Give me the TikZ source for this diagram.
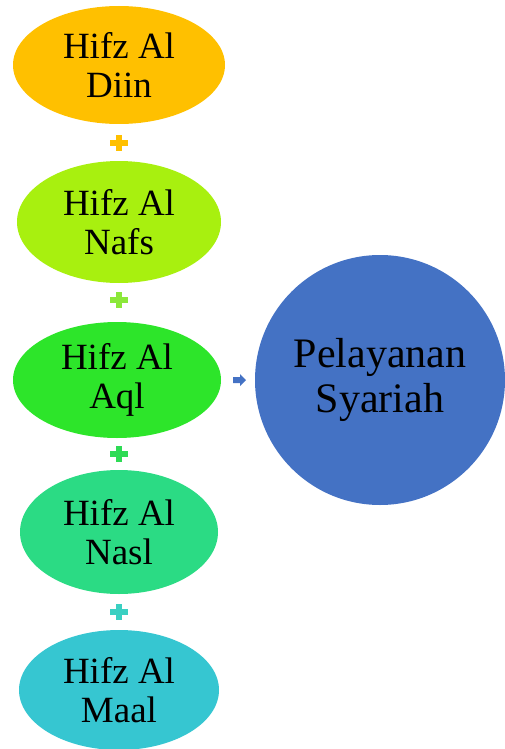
\documentclass[tikz,border=0pt]{standalone}
\usepackage{fontspec}
\setmainfont{Liberation Serif}
\usetikzlibrary{shapes.geometric}
\definecolor{cOrange}{HTML}{FFC000}
\definecolor{cLime}{HTML}{A8F00F}
\definecolor{cGreen}{HTML}{2DE52A}
\definecolor{cMint}{HTML}{2BDB84}
\definecolor{cCyan}{HTML}{36C6D1}
\definecolor{cBlue}{HTML}{4472C4}
\definecolor{pLime}{HTML}{8CE83A}
\definecolor{pGreen}{HTML}{2EDB55}
\definecolor{pCyan}{HTML}{3BD0C2}
\begin{document}
\begin{tikzpicture}[x=1pt,y=-1pt,
  oval/.style={ellipse, fill=#1, inner sep=0pt, align=center,
    font=\fontsize{37}{39}\selectfont}]
\useasboundingbox (0,0) rectangle (504,749);
\node[oval=cOrange, minimum width=212pt, minimum height=118pt] (diin) at (119,65) {Hifz Al\\Diin};
\node[oval=cLime, minimum width=204pt, minimum height=122pt] (nafs) at (119,222) {Hifz Al\\Nafs};
\node[oval=cGreen, minimum width=208pt, minimum height=116pt] (aql) at (117,380) {Hifz Al\\Aql};
\node[oval=cMint, minimum width=198pt, minimum height=124pt] (nasl) at (119,532) {Hifz Al\\Nasl};
\node[oval=cCyan, minimum width=200pt, minimum height=120pt] (maal) at (119,690) {Hifz Al\\Maal};
\node[circle, fill=cBlue, minimum size=250pt, inner sep=0pt, align=center,
  font=\fontsize{42}{45}\selectfont] (syariah) at (380,380) {Pelayanan\\Syariah};
% plus signs
\coordinate (p1) at (119,143);
\coordinate (p2) at (119,300);
\coordinate (p3) at (119,454);
\coordinate (p4) at (119,612);
\foreach \p/\c in {p1/cOrange,p2/pLime,p3/pGreen,p4/pCyan}{
  \fill[\c] ([xshift=-9pt,yshift=-3pt]\p) rectangle ([xshift=9pt,yshift=3pt]\p);
  \fill[\c] ([xshift=-3pt,yshift=-8pt]\p) rectangle ([xshift=3pt,yshift=8pt]\p);
}
% arrow
\coordinate (ar) at (239.5,380);
\fill[cBlue] ([shift={(-6.5,-3)}]ar) -- ([shift={(0.5,-3)}]ar) -- ([shift={(0.5,-6)}]ar)
  -- ([shift={(6.5,0)}]ar) -- ([shift={(0.5,6)}]ar) -- ([shift={(0.5,3)}]ar)
  -- ([shift={(-6.5,3)}]ar) -- cycle;
\end{tikzpicture}
\end{document}
